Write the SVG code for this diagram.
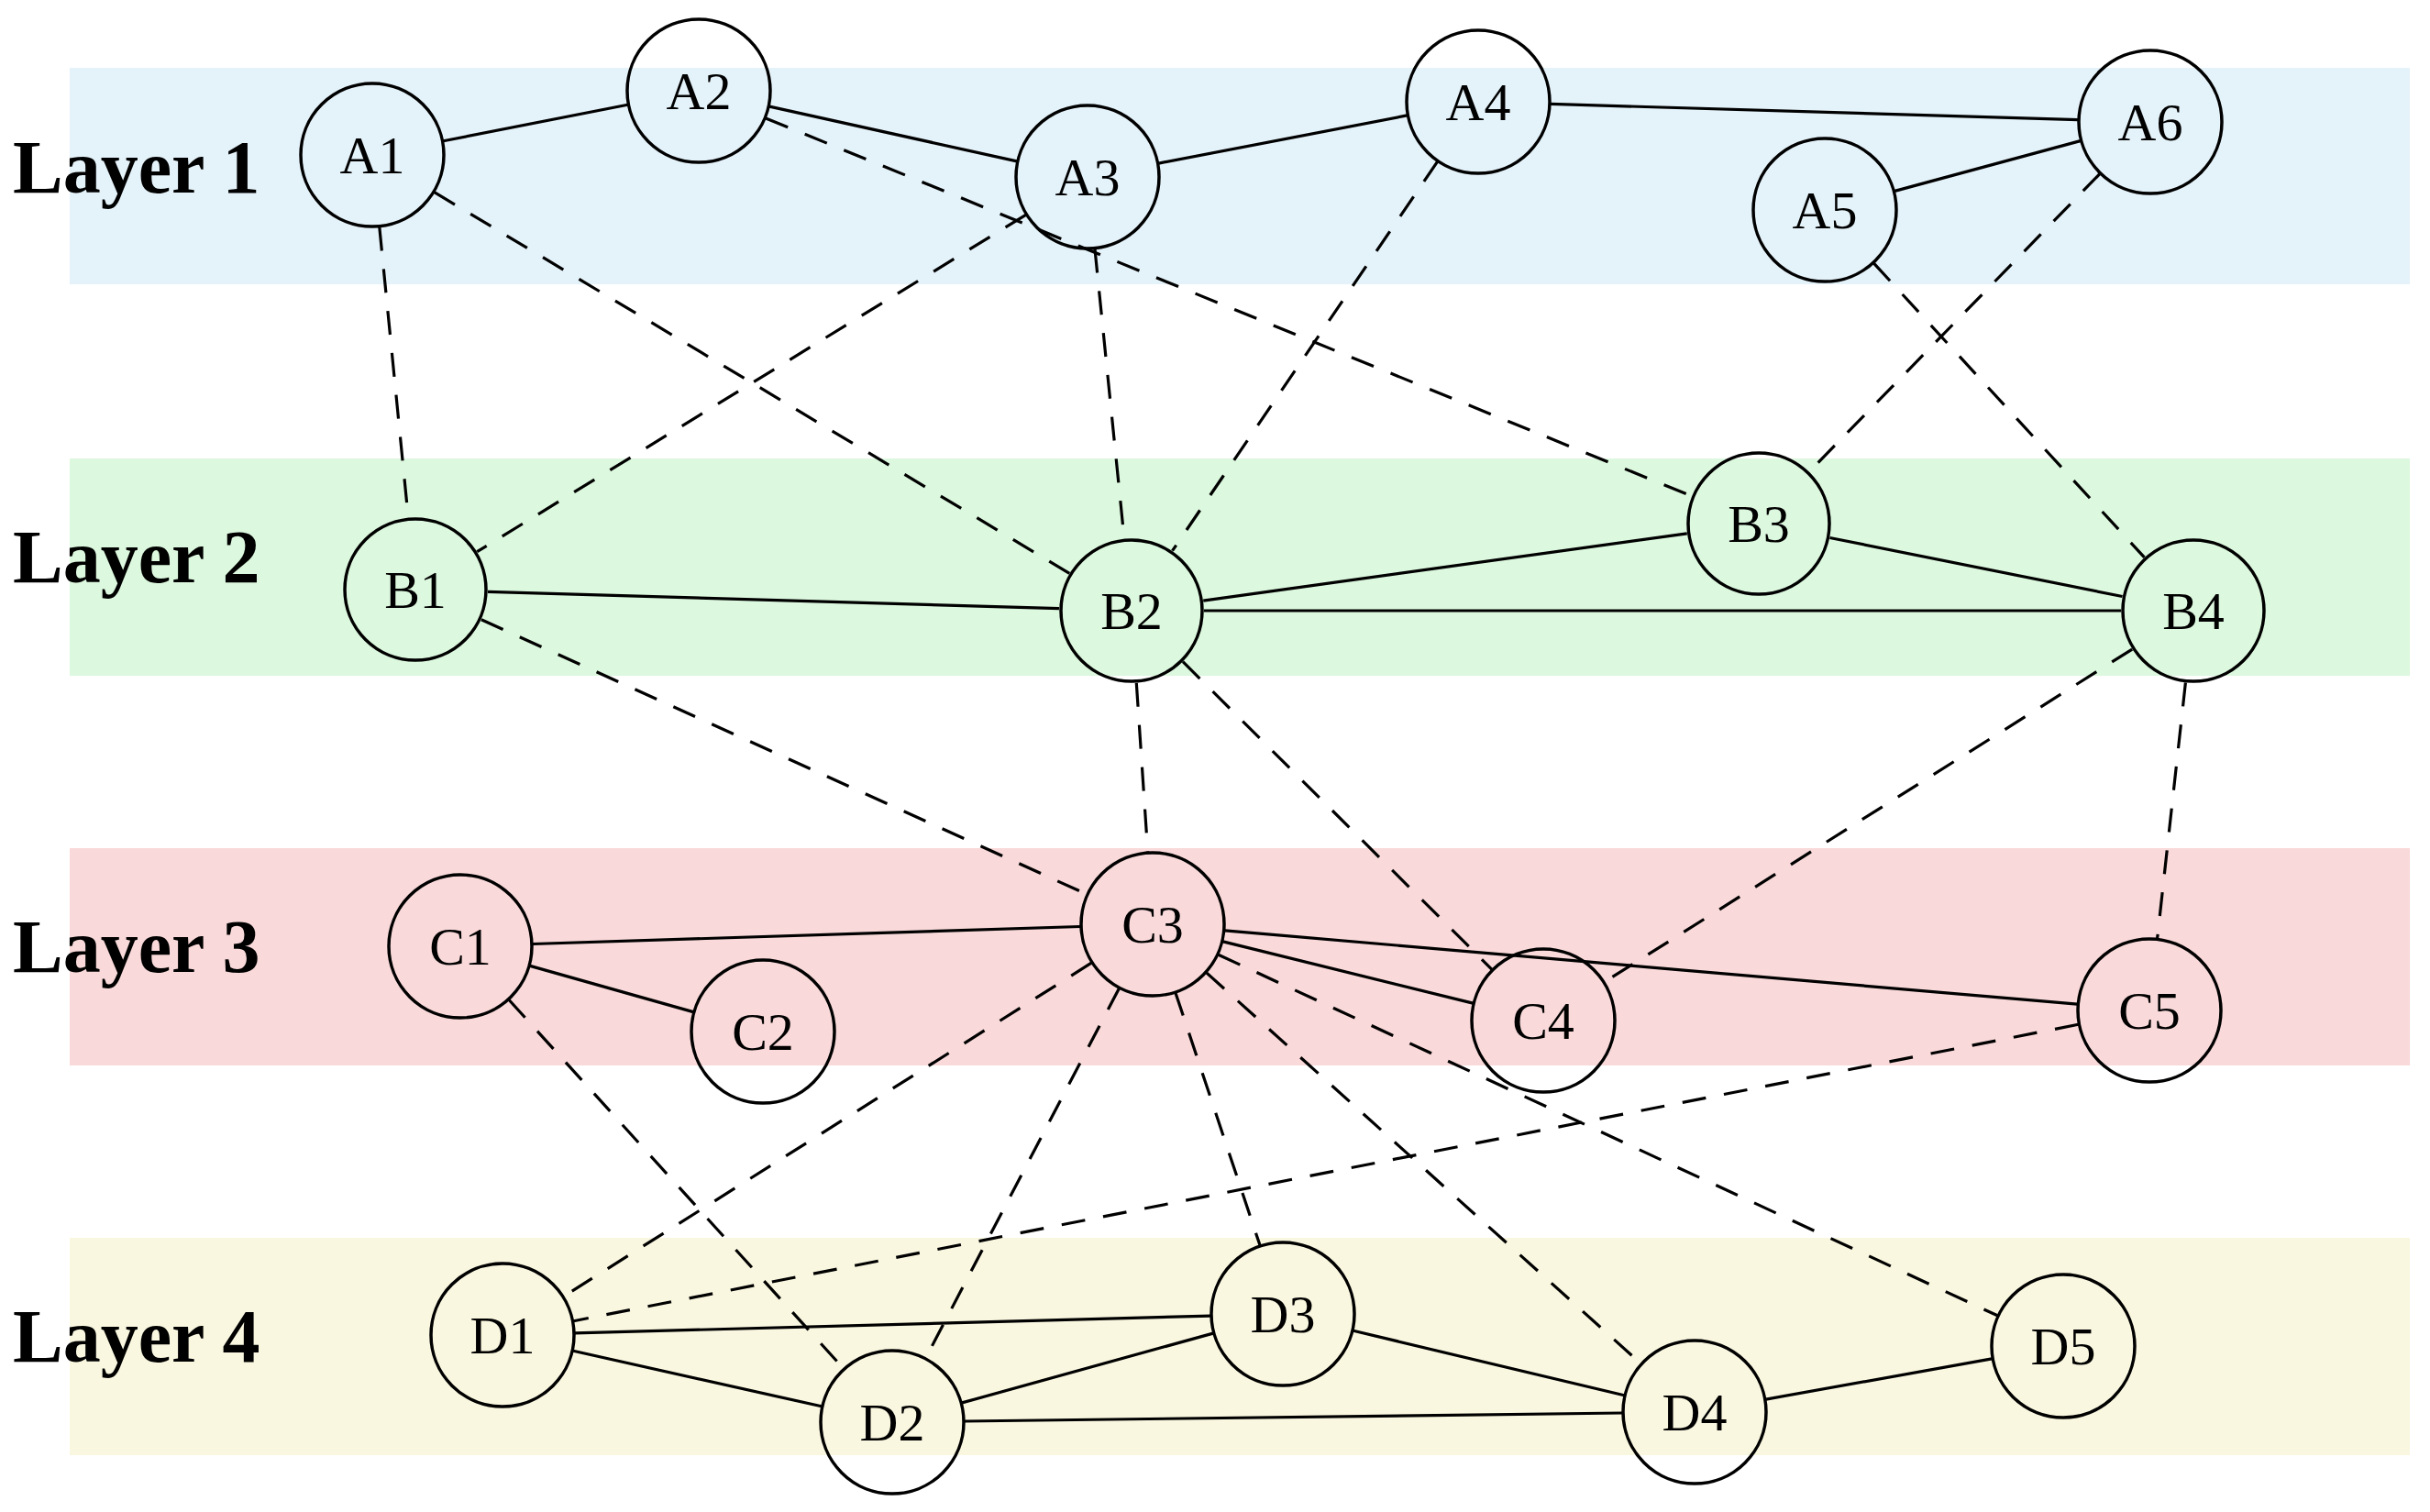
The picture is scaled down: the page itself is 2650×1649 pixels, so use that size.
<svg xmlns="http://www.w3.org/2000/svg" width="2650" height="1649" viewBox="0 0 2650 1649">
<style>
.band1{fill:#E4F2F9}.band2{fill:#DCF8DE}.band3{fill:#F9D9D9}.band4{fill:#FAF7E0}
.lay{font-family:"Liberation Serif",serif;font-weight:bold;font-size:82px;fill:#000}
.node circle{fill:none;stroke:#000;stroke-width:3.5}
.node text{font-family:"Liberation Serif",serif;font-size:58px;text-anchor:middle;fill:#000}
.e{stroke:#000;stroke-width:3.2;fill:none}
.d{stroke-dasharray:26 20}
</style>
<rect width="2650" height="1649" fill="#fff"/>
<g id="bands">
<rect class="band1" x="76" y="74" width="2552" height="236"/>
<rect class="band2" x="76" y="500" width="2552" height="237"/>
<rect class="band3" x="76" y="925" width="2552" height="237"/>
<rect class="band4" x="76" y="1350" width="2552" height="237"/>
</g>
<g id="labels">
<text class="lay" x="14" y="210">Layer 1</text>
<text class="lay" x="14" y="635">Layer 2</text>
<text class="lay" x="14" y="1060">Layer 3</text>
<text class="lay" x="14" y="1485">Layer 4</text>
</g>
<g id="connectors">
<line class="e" x1="483.5" y1="153.8" x2="684.5" y2="114.2"/>
<line class="e" x1="839.1" y1="116.1" x2="1108.9" y2="175.9"/>
<line class="e" x1="1263.6" y1="178.1" x2="1534.4" y2="125.9"/>
<line class="e" x1="1691" y1="113.4" x2="2266" y2="130.6"/>
<line class="e" x1="2066.3" y1="208.4" x2="2268.7" y2="153.6"/>
<line class="e" x1="532" y1="645.3" x2="1155" y2="663.7"/>
<line class="e" x1="1312.2" y1="655.1" x2="1839.8" y2="581.9"/>
<line class="e" x1="1995.5" y1="586.5" x2="2314.5" y2="650.5"/>
<line class="e" x1="1313" y1="666" x2="2313" y2="666"/>
<line class="e" x1="581" y1="1029.5" x2="1178" y2="1010.5"/>
<line class="e" x1="578" y1="1053.4" x2="756" y2="1103.6"/>
<line class="e" x1="1333.7" y1="1026.9" x2="1606.3" y2="1094.1"/>
<line class="e" x1="1335.7" y1="1014.8" x2="2265.3" y2="1095.2"/>
<line class="e" x1="627" y1="1453.9" x2="1320" y2="1435.1"/>
<line class="e" x1="625.1" y1="1473.2" x2="895.9" y2="1533.8"/>
<line class="e" x1="1049.1" y1="1529.9" x2="1322.9" y2="1454.1"/>
<line class="e" x1="1052" y1="1550" x2="1769" y2="1541"/>
<line class="e" x1="1475.8" y1="1451.3" x2="1771.2" y2="1521.7"/>
<line class="e" x1="1925.8" y1="1526.1" x2="2172.2" y2="1481.9"/>
<line class="e d" x1="413.8" y1="247.6" x2="445.2" y2="564.4"/>
<line class="e d" x1="473.7" y1="209.7" x2="1166.3" y2="625.3"/>
<line class="e d" x1="835.1" y1="128.9" x2="1844.9" y2="541.1"/>
<line class="e d" x1="1118.7" y1="234.3" x2="520.3" y2="601.7"/>
<line class="e d" x1="1194" y1="271.6" x2="1226" y2="587.4"/>
<line class="e d" x1="1567.5" y1="176.3" x2="1278.5" y2="600.7"/>
<line class="e d" x1="2289.9" y1="189.6" x2="1973.1" y2="514.4"/>
<line class="e d" x1="2043.5" y1="287.1" x2="2338.5" y2="607.9"/>
<line class="e d" x1="524.9" y1="675.7" x2="1185.1" y2="975.3"/>
<line class="e d" x1="1239.3" y1="744.8" x2="1251.7" y2="929.2"/>
<line class="e d" x1="1290" y1="721.7" x2="1627" y2="1057.3"/>
<line class="e d" x1="2325.2" y1="708.1" x2="1749.8" y2="1070.9"/>
<line class="e d" x1="2383.4" y1="744.5" x2="2352.6" y2="1023.5"/>
<line class="e d" x1="1190.2" y1="1050.2" x2="614.8" y2="1413.8"/>
<line class="e d" x1="1220.4" y1="1078" x2="1009.6" y2="1481"/>
<line class="e d" x1="1282" y1="1082.9" x2="1374" y2="1358.1"/>
<line class="e d" x1="1315.7" y1="1060.9" x2="1789.3" y2="1487.1"/>
<line class="e d" x1="1328.7" y1="1041.2" x2="2178.3" y2="1434.8"/>
<line class="e d" x1="555.1" y1="1090.5" x2="919.9" y2="1492.5"/>
<line class="e d" x1="2266.5" y1="1117.3" x2="625.5" y2="1440.7"/>
</g>
<g id="A1" class="node"><circle cx="406" cy="169" r="78"/><text x="406" y="189">A1</text></g>
<g id="A2" class="node"><circle cx="762" cy="99" r="78"/><text x="762" y="119">A2</text></g>
<g id="A3" class="node"><circle cx="1186" cy="193" r="78"/><text x="1186" y="213">A3</text></g>
<g id="A4" class="node"><circle cx="1612" cy="111" r="78"/><text x="1612" y="131">A4</text></g>
<g id="A5" class="node"><circle cx="1990" cy="229" r="78"/><text x="1990" y="249">A5</text></g>
<g id="A6" class="node"><circle cx="2345" cy="133" r="78"/><text x="2345" y="153">A6</text></g>
<g id="B1" class="node"><circle cx="453" cy="643" r="77"/><text x="453" y="663">B1</text></g>
<g id="B2" class="node"><circle cx="1234" cy="666" r="77"/><text x="1234" y="686">B2</text></g>
<g id="B3" class="node"><circle cx="1918" cy="571" r="77"/><text x="1918" y="591">B3</text></g>
<g id="B4" class="node"><circle cx="2392" cy="666" r="77"/><text x="2392" y="686">B4</text></g>
<g id="C1" class="node"><circle cx="502" cy="1032" r="78"/><text x="502" y="1052">C1</text></g>
<g id="C2" class="node"><circle cx="832" cy="1125" r="78"/><text x="832" y="1145">C2</text></g>
<g id="C3" class="node"><circle cx="1257" cy="1008" r="78"/><text x="1257" y="1028">C3</text></g>
<g id="C4" class="node"><circle cx="1683" cy="1113" r="78"/><text x="1683" y="1133">C4</text></g>
<g id="C5" class="node"><circle cx="2344" cy="1102" r="78"/><text x="2344" y="1122">C5</text></g>
<g id="D1" class="node"><circle cx="548" cy="1456" r="78"/><text x="548" y="1476">D1</text></g>
<g id="D2" class="node"><circle cx="973" cy="1551" r="78"/><text x="973" y="1571">D2</text></g>
<g id="D3" class="node"><circle cx="1399" cy="1433" r="78"/><text x="1399" y="1453">D3</text></g>
<g id="D4" class="node"><circle cx="1848" cy="1540" r="78"/><text x="1848" y="1560">D4</text></g>
<g id="D5" class="node"><circle cx="2250" cy="1468" r="78"/><text x="2250" y="1488">D5</text></g>
</svg>
